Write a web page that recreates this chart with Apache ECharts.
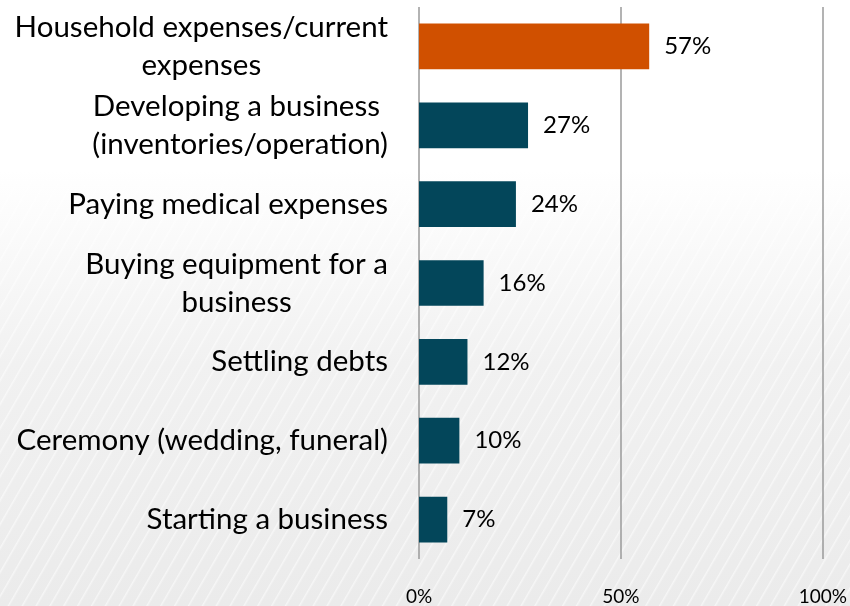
<!DOCTYPE html>
<html>
<head>
<meta charset="utf-8">
<script src="https://cdn.jsdelivr.net/npm/echarts@6/dist/echarts.min.js"></script>
<style>
  html, body { margin: 0; padding: 0; }
  body {
    width: 850px; height: 606px; overflow: hidden;
    background:
      repeating-linear-gradient(120deg, rgba(255,255,255,0) 0px, rgba(255,255,255,0) 9px, rgba(255,255,255,0.55) 10px, rgba(255,255,255,0) 12px),
      linear-gradient(to bottom, #ffffff 0%, #ffffff 28%, #f1f1f1 60%, #ebebeb 100%);
  }
  #chart { width: 850px; height: 606px; }
</style>
</head>
<body>
<div id="chart"></div>
<script>
// Uses of the money, share of respondents (%)
const categories = [
  'Household expenses/current\nexpenses',
  'Developing a business \n(inventories/operation)',
  'Paying medical expenses',
  'Buying equipment for a\nbusiness',
  'Settling debts',
  'Ceremony (wedding, funeral)',
  'Starting a business'
];
const values = [57, 27, 24, 16, 12, 10, 7];
const highlightIndex = 0;
const tickValues = [0, 50, 100];

const ORANGE = '#d05000';
const TEAL = '#03465a';

const chart = echarts.init(document.getElementById('chart'), null, { renderer: 'canvas' });

chart.setOption({
  animation: false,
  backgroundColor: 'transparent',
  grid: { left: 419, right: 26, top: 7, bottom: 45, containLabel: false },
  xAxis: {
    type: 'value',
    min: 0,
    max: 100,
    interval: 50,
    axisLine: { show: false },
    axisTick: { show: false },
    splitLine: { show: true, lineStyle: { color: '#9a9a9a', width: 1.5 } },
    axisLabel: {
      margin: 28,
      color: '#000',
      fontFamily: 'Lato',
      fontSize: 19,
      formatter: v => tickValues.includes(v) ? v + '%' : ''
    }
  },
  yAxis: {
    type: 'category',
    inverse: true,
    data: categories,
    axisLine: { show: false },
    axisTick: { show: false },
    axisLabel: {
      margin: 31,
      color: '#000',
      align: 'right',
      formatter: v => v.split('\n').map(l => '{c|' + l + '}').join('\n'),
      rich: {
        c: { align: 'center', fontFamily: 'Lato', fontSize: 29.5, lineHeight: 38, color: '#000' }
      }
    }
  },
  series: [{
    type: 'bar',
    data: values.map((v, i) => ({
      value: v,
      itemStyle: { color: i === highlightIndex ? ORANGE : TEAL }
    })),
    barCategoryGap: '42%',
    label: {
      show: true,
      position: 'right',
      distance: 15,
      color: '#000',
      fontFamily: 'Lato',
      fontSize: 24,
      formatter: p => p.value + '%'
    }
  }]
});
</script>
</body>
</html>
